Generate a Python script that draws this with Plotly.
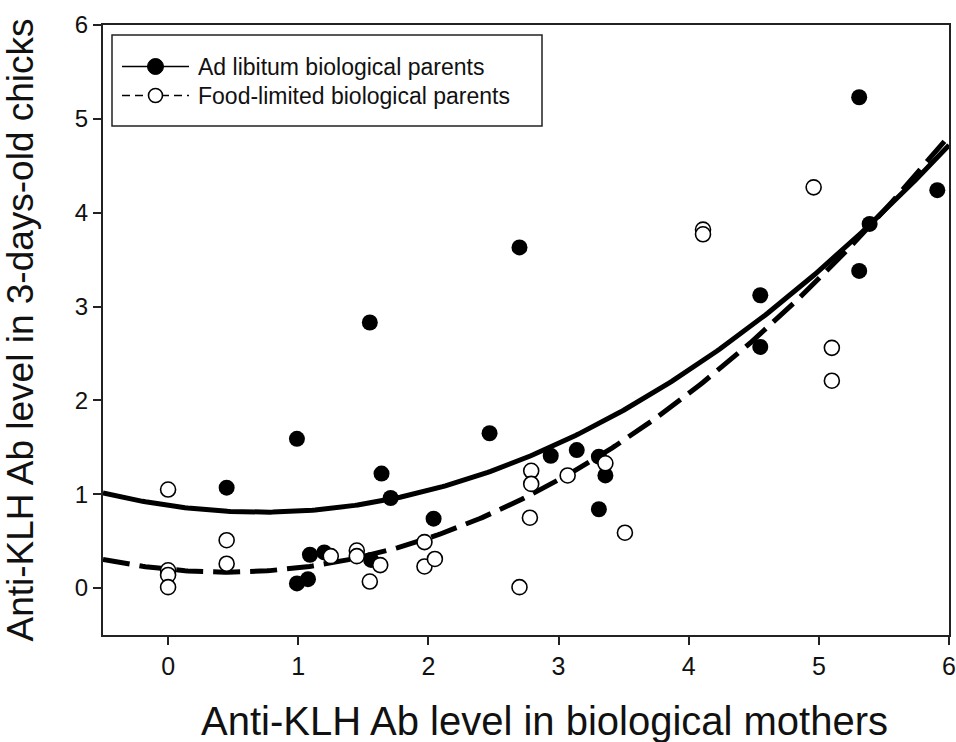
import numpy as np
import plotly.graph_objects as go

# ---- data ----
adlib_x = [0.45, 0.99, 0.99, 1.075, 1.09, 1.20, 1.55, 1.56, 1.64, 1.71, 2.04, 2.47,
           2.70, 2.94, 3.14, 3.31, 3.36, 3.31, 4.55, 4.55, 5.31, 5.31, 5.39, 5.91]
adlib_y = [1.07, 1.59, 0.05, 0.095, 0.355, 0.38, 2.83, 0.30, 1.22, 0.96, 0.74, 1.65,
           3.63, 1.41, 1.47, 1.40, 1.20, 0.84, 3.12, 2.57, 5.23, 3.38, 3.88, 4.24]

food_x = [0.0, 0.0, 0.0, 0.0, 0.45, 0.45, 1.25, 1.45, 1.45, 1.55, 1.63, 1.97, 1.97,
          2.05, 2.70, 2.78, 2.79, 2.79, 3.07, 3.36, 3.51, 4.11, 4.11, 4.96, 5.10, 5.10]
food_y = [1.05, 0.19, 0.14, 0.01, 0.51, 0.26, 0.34, 0.40, 0.34, 0.07, 0.245, 0.49, 0.23,
          0.31, 0.01, 0.75, 1.25, 1.11, 1.20, 1.33, 0.59, 3.82, 3.77, 4.27, 2.56, 2.21]

# quadratic fit coefficients (c0, c1, c2)
fit_adlib = [0.88, -0.20, 0.14]
fit_food = [0.20, -0.136, 0.151]

legend_labels = ["Ad libitum biological parents", "Food-limited biological parents"]
x_ticks = [0, 1, 2, 3, 4, 5, 6]
y_ticks = [0, 1, 2, 3, 4, 5, 6]
x_title = "Anti-KLH Ab level in biological mothers"
y_title = "Anti-KLH Ab level in 3-days-old chicks"

# ---- figure ----
W, H = 956, 742
L, R, T, B = 103, 956 - 949, 25, 742 - 635
PW, PH = W - L - R, H - T - B

xs = np.linspace(-0.5, 6.0, 300)
def quad(c, x):
    return c[0] + c[1] * x + c[2] * x ** 2

fig = go.Figure()
fig.add_trace(go.Scatter(x=xs, y=quad(fit_adlib, xs), mode="lines",
                         line=dict(color="black", width=5), showlegend=False,
                         hoverinfo="skip"))
fig.add_trace(go.Scatter(x=xs, y=quad(fit_food, xs), mode="lines",
                         line=dict(color="black", width=5, dash="27px,10px"),
                         showlegend=False, hoverinfo="skip"))
fig.add_trace(go.Scatter(x=adlib_x, y=adlib_y, mode="markers", name=legend_labels[0],
                         marker=dict(size=16, color="black", line=dict(width=0)),
                         showlegend=False))
fig.add_trace(go.Scatter(x=food_x, y=food_y, mode="markers", name=legend_labels[1],
                         marker=dict(size=15, color="white",
                                     line=dict(width=1.6, color="black")),
                         showlegend=False))

# ---- hand-built legend (pixel positions converted to paper coords) ----
def px(xp):
    return (xp - L) / PW
def py(yp):
    return (H - B - yp) / PH

shapes = [
    dict(type="rect", xref="paper", yref="paper", x0=px(112), x1=px(542),
         y0=py(126), y1=py(35), line=dict(color="#222", width=1.5),
         fillcolor="white", layer="above"),
    dict(type="line", xref="paper", yref="paper", x0=px(122), x1=px(189),
         y0=py(66.5), y1=py(66.5), line=dict(color="black", width=1.5), layer="above"),
    dict(type="line", xref="paper", yref="paper", x0=px(122), x1=px(189),
         y0=py(95.5), y1=py(95.5), line=dict(color="black", width=1.5, dash="8px,5px"),
         layer="above"),
    dict(type="circle", xref="paper", yref="paper", xsizemode="pixel", ysizemode="pixel",
         xanchor=px(155.5), yanchor=py(66.5), x0=-8, x1=8, y0=-8, y1=8,
         fillcolor="black", line=dict(color="black", width=1), layer="above"),
    dict(type="circle", xref="paper", yref="paper", xsizemode="pixel", ysizemode="pixel",
         xanchor=px(155.5), yanchor=py(95.5), x0=-7, x1=7, y0=-7, y1=7,
         fillcolor="white", line=dict(color="black", width=1.6), layer="above"),
]
annotations = [
    dict(xref="paper", yref="paper", x=px(196), y=py(66.5), xanchor="left",
         yanchor="middle", text=legend_labels[0], showarrow=False,
         font=dict(family="Liberation Sans, Arial", size=23, color="#111")),
    dict(xref="paper", yref="paper", x=px(196), y=py(95.5), xanchor="left",
         yanchor="middle", text=legend_labels[1], showarrow=False,
         font=dict(family="Liberation Sans, Arial", size=23, color="#111")),
    # x-axis title (placed as in the reference, slightly right of plot centre)
    dict(xref="paper", yref="paper", x=px(544), y=py(721), xanchor="center",
         yanchor="middle", text=x_title, showarrow=False,
         font=dict(family="Liberation Sans, Arial", size=40, color="#111")),
]

axis_common = dict(showgrid=False, zeroline=False, showline=True, linecolor="#222",
                   linewidth=2, mirror=True, ticks="outside", ticklen=8, tickwidth=1.5,
                   tickcolor="#222", automargin=False)

fig.update_layout(
    width=W, height=H,
    margin=dict(l=L, r=R, t=T, b=B, pad=0, autoexpand=False),
    paper_bgcolor="white", plot_bgcolor="white",
    font=dict(family="Liberation Sans, Arial", color="#111"),
    shapes=shapes, annotations=annotations, showlegend=False,
    xaxis=dict(range=[-0.5, 6.0], tickvals=x_ticks, ticktext=[str(v) for v in x_ticks],
               tickfont=dict(size=25),
               **axis_common),
    yaxis=dict(range=[-0.5, 6.0], tickvals=y_ticks, ticktext=[str(v) for v in y_ticks],
               tickfont=dict(size=24),
               title=dict(text=y_title, font=dict(size=37), standoff=31),
               **axis_common),
)

fig.write_html("out.html",
               config=dict(displayModeBar=False),
               post_script="document.body.style.margin='0px';"
                           "document.body.style.overflow='hidden';")
